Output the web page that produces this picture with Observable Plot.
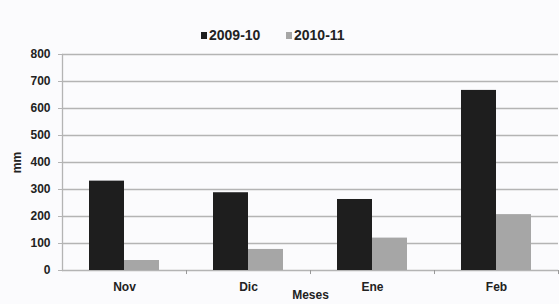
<!DOCTYPE html>
<html><head><meta charset="utf-8">
<script src="https://cdn.jsdelivr.net/npm/d3@7"></script>
<script src="https://cdn.jsdelivr.net/npm/@observablehq/plot@0.6"></script>
<style>
html,body{margin:0;padding:0;background:#fbfbfd;}
#wrap{position:relative;width:559px;height:304px;font-family:"Liberation Sans",Arial,sans-serif;}
#legend{position:absolute;top:27px;left:0;width:559px;text-align:left;font-weight:bold;font-size:14px;color:#222;}
.item{position:absolute;top:0;white-space:nowrap;}
.sw{display:inline-block;width:6px;height:7px;margin-right:2px;vertical-align:1px;}
</style></head>
<body><div id="wrap"><div id="legend"></div><div id="chart"></div></div>
<script>
const months = ["Nov", "Dic", "Ene", "Feb"];
const series = ["2009-10", "2010-11"];
const values2009 = [331, 288, 263, 667];
const values2010 = [37, 78, 120, 207];
const colors = ["#1e1e1e", "#a6a6a6"];
const yTicks = [0, 100, 200, 300, 400, 500, 600, 700, 800];

const data = months.flatMap((m, i) => [
  {month: m, serie: series[0], value: values2009[i]},
  {month: m, serie: series[1], value: values2010[i]}
]);

const chart = Plot.plot({
  width: 559, height: 304,
  marginLeft: 61, marginRight: 0, marginTop: 54, marginBottom: 34,
  style: {background: "transparent", fontFamily: "'Liberation Sans', Arial, sans-serif", fontWeight: "bold", fontSize: "12px", color: "#222"},
  fx: {domain: months, padding: 0},
  x: {domain: series, paddingInner: 0, paddingOuter: 0.75, axis: null},
  y: {domain: [0, 800]},
  color: {domain: series, range: colors},
  marks: [
    Plot.ruleY(yTicks, {stroke: "#b4b4b4", strokeWidth: 1.3}),
    Plot.axisY({ticks: yTicks, tickSize: 4, tickPadding: 8, stroke: "#b4b4b4", label: "mm", labelAnchor: "center", labelArrow: "none", labelOffset: 50, fontSize: 12}),
    Plot.frame({anchor: "left", stroke: "#b4b4b4", strokeWidth: 1.3, facetAnchor: "left"}),
    Plot.ruleX(data.filter(d => d.serie === series[1]), {fx: "month", x: "serie", y1: 0, y2: -15, dx: 44.5, stroke: "#999", strokeWidth: 1}),
    Plot.barY(data, {fx: "month", x: "serie", y: "value", fill: "serie"}),
    Plot.axisFx({anchor: "bottom", tickSize: 0, tickPadding: 12, label: "Meses", labelAnchor: "center", labelArrow: "none", labelOffset: 28, fontSize: 12})
  ]
});
document.getElementById("chart").appendChild(chart);

const legend = document.getElementById("legend");
const lx = [201, 286];
series.forEach((s, i) => {
  const el = document.createElement("span");
  el.className = "item";
  el.style.left = lx[i] + "px";
  el.innerHTML = `<span class="sw" style="background:${colors[i]}"></span>${s}`;
  legend.appendChild(el);
});
</script></body></html>
